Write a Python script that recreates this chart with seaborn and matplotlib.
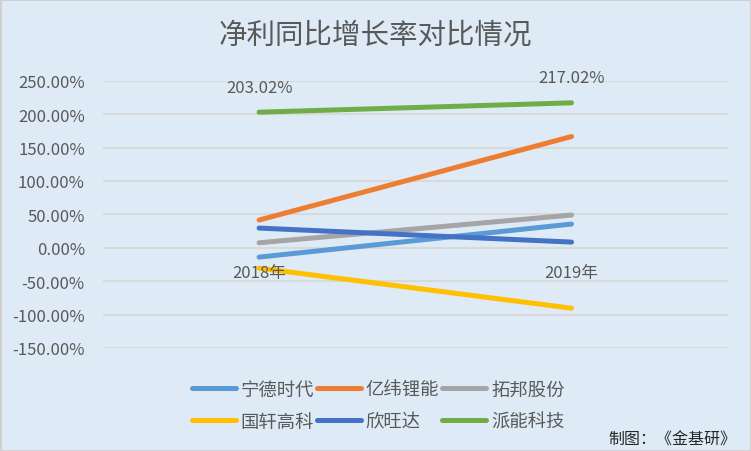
import matplotlib
matplotlib.use("Agg")
import matplotlib.pyplot as plt
import seaborn as sns
import pandas as pd
from matplotlib.lines import Line2D

sns.set_theme(style="white")
plt.rcParams['font.family'] = ['Noto Sans CJK SC', 'DejaVu Sans']

years = ["2018年", "2019年"]
companies = ["宁德时代", "亿纬锂能", "拓邦股份", "国轩高科", "欣旺达", "派能科技"]
v_ningde = [-14.0, 35.5]
v_yiwei = [41.5, 166.6]
v_tuobang = [7.5, 49.0]
v_guoxuan = [-30.5, -90.5]
v_xinwangda = [29.5, 8.5]
v_paineng = [203.02, 217.02]
colors = ["#5B9BD5", "#ED7D31", "#A5A5A5", "#FFC000", "#4472C4", "#70AD47"]
yticks = [-150, -100, -50, 0, 50, 100, 150, 200, 250]

series = [v_ningde, v_yiwei, v_tuobang, v_guoxuan, v_xinwangda, v_paineng]
rows = []
for c, vals in zip(companies, series):
    for y, v in zip(years, vals):
        rows.append({"year": y, "company": c, "value": v})
df = pd.DataFrame(rows)

bg = "#DEEBF7"
txt = "#595959"
fig = plt.figure(figsize=(7.51, 4.52), dpi=100, facecolor=bg)
fig.patch.set_edgecolor("#D0D0D0")
fig.patch.set_linewidth(2)
ax = fig.add_axes([0.137, 0.228, 0.832, 0.591])
ax.set_facecolor(bg)

sns.lineplot(data=df, x="year", y="value", hue="company", hue_order=companies,
             palette=colors, linewidth=3.6, ax=ax, legend=False, sort=False,
             solid_capstyle="round")

ax.set_xlim(-0.5, 1.5)
ax.set_ylim(-150, 250)
ax.set_yticks(yticks)
ax.set_yticklabels([f"{t:.2f}%" for t in yticks], color=txt, fontsize=12)
ax.tick_params(axis="y", length=0, pad=13)
ax.set_xticks([])
ax.set_xlabel("")
ax.set_ylabel("")
ax.grid(axis="y", color="#D9D9D9", linewidth=1.5)
ax.set_axisbelow(True)
for s in ax.spines.values():
    s.set_visible(False)

# category labels placed at the zero line (Excel style)
for i, y in enumerate(years):
    ax.annotate(y, xy=(i, 0), xytext=(0, -18), textcoords="offset points",
                ha="center", va="center", fontsize=12, color=txt)

# data labels for 派能科技
ax.annotate(f"{v_paineng[0]:.2f}%", xy=(0, v_paineng[0]), xytext=(0, 18),
            textcoords="offset points", ha="center", va="center", fontsize=12, color=txt)
ax.annotate(f"{v_paineng[1]:.2f}%", xy=(1, v_paineng[1]), xytext=(0, 18),
            textcoords="offset points", ha="center", va="center", fontsize=12, color=txt)

fig.text(0.5, 1 - 36 / 452, "净利同比增长率对比情况", ha="center", va="center",
         fontsize=20.5, color=txt)

handles = [Line2D([0], [0], color=c, lw=3.6, solid_capstyle="round") for c in colors]
order = [0, 3, 1, 4, 2, 5]
leg = fig.legend([handles[i] for i in order], [companies[i] for i in order],
                 ncol=3, loc="center", bbox_to_anchor=(378 / 751, 1 - 406.5 / 452),
                 frameon=False, fontsize=13.2, handlelength=2.4, handletextpad=0.27,
                 columnspacing=0.15, labelspacing=0.77, labelcolor=txt)

fig.text(736 / 751, 1 - 440 / 452, "制图：《金基研》", ha="right", va="center",
         fontsize=11.5, color="#262626")

fig.savefig("out.png", dpi=100, facecolor=bg, edgecolor=fig.patch.get_edgecolor())
